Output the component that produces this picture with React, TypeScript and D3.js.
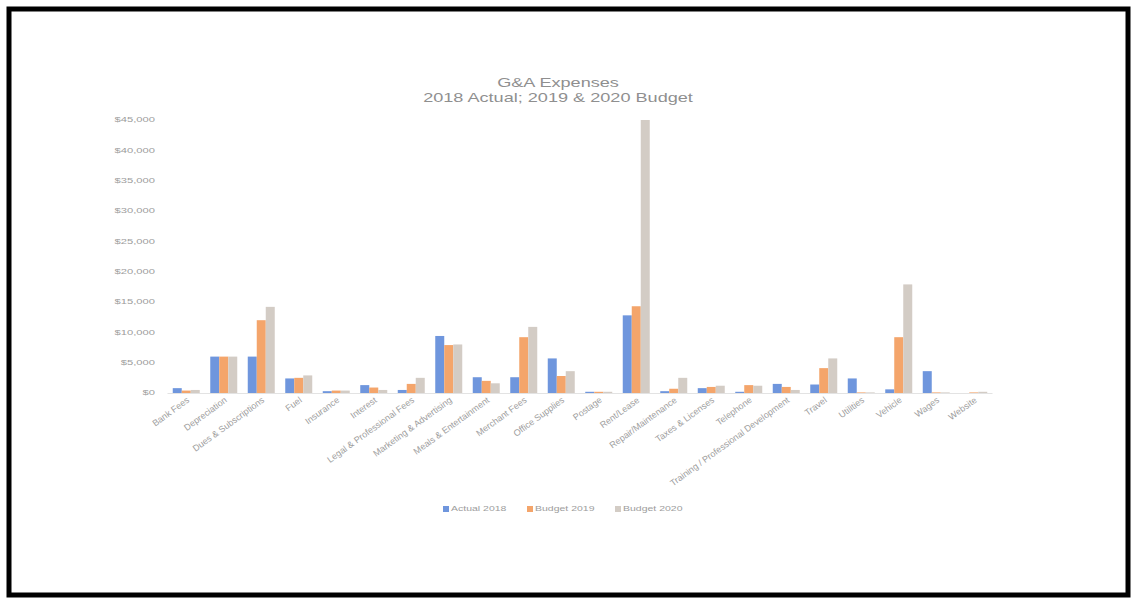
import { useEffect, useRef } from "react";
import * as d3 from "d3";

const categories = [
  "Bank Fees",
  "Depreciation",
  "Dues & Subscriptions",
  "Fuel",
  "Insurance",
  "Interest",
  "Legal & Professional Fees",
  "Marketing & Advertising",
  "Meals & Entertainment",
  "Merchant Fees",
  "Office Supplies",
  "Postage",
  "Rent/Lease",
  "Repair/Maintenance",
  "Taxes & Licenses",
  "Telephone",
  "Training / Professional Development",
  "Travel",
  "Utilities",
  "Vehicle",
  "Wages",
  "Website",
];

const actual2018 = [800, 6000, 6000, 2400, 300, 1300, 500, 9400, 2600, 2600, 5700, 200, 12800, 300, 800, 200, 1500, 1400, 2400, 600, 3600, 0];
const budget2019 = [400, 6000, 12000, 2500, 400, 900, 1500, 7900, 2000, 9200, 2800, 200, 14300, 700, 1000, 1300, 1000, 4100, 100, 9200, 100, 100];
const budget2020 = [500, 6000, 14200, 2900, 400, 500, 2500, 8000, 1600, 10900, 3600, 200, 45000, 2500, 1200, 1200, 500, 5700, 100, 17900, 100, 200];

const seriesNames = ["Actual 2018", "Budget 2019", "Budget 2020"];
const seriesColors = ["#6f96dd", "#f4a56b", "#d3ccc5"];
const yTicks = [0, 5000, 10000, 15000, 20000, 25000, 30000, 35000, 40000, 45000];

const W = 1137;
const H = 604;
const FONT = "'Liberation Sans', sans-serif";
const TEXT = "#9d9d9d";

export default function App() {
  const svgRef = useRef<SVGSVGElement>(null);

  useEffect(() => {
    const svg = d3.select(svgRef.current);
    svg.selectAll("*").remove();

    svg.append("rect").attr("width", W).attr("height", H).attr("fill", "#ffffff");

    // black frame around the picture
    svg.append("rect")
      .attr("x", 9)
      .attr("y", 9)
      .attr("width", W - 18)
      .attr("height", H - 18)
      .attr("fill", "none")
      .attr("stroke", "#000")
      .attr("stroke-width", 5);

    const x0 = d3.scaleBand<string>()
      .domain(categories)
      .range([167.5, 992.5]);

    const x1 = d3.scaleBand<number>()
      .domain([0, 1, 2])
      .range([x0.bandwidth() * 0.14, x0.bandwidth() * 0.86]);

    const y = d3.scaleLinear().domain([0, 45000]).range([393, 120]);

    // title (the source screenshot is stretched sideways)
    const title = svg.append("g").attr("transform", "translate(558,0) scale(1.45,1)");
    title.append("text")
      .attr("y", 87.5)
      .attr("text-anchor", "middle")
      .attr("font-family", FONT)
      .attr("font-size", "12.5px")
      .attr("fill", "#8f8f8f")
      .text("G&A Expenses");
    title.append("text")
      .attr("y", 102)
      .attr("text-anchor", "middle")
      .attr("font-family", FONT)
      .attr("font-size", "12.5px")
      .attr("fill", "#8f8f8f")
      .text("2018 Actual; 2019 & 2020 Budget");

    // y tick labels
    svg.append("g")
      .selectAll("text")
      .data(yTicks)
      .join("text")
      .attr("transform", (d) => `translate(155,${y(d)}) scale(1.6,1)`)
      .attr("dominant-baseline", "central")
      .attr("text-anchor", "end")
      .attr("font-family", FONT)
      .attr("font-size", "7px")
      .attr("fill", TEXT)
      .text((d) => "$" + d3.format(",")(d));

    // bars
    const series = [actual2018, budget2019, budget2020];
    const groups = svg.append("g")
      .selectAll("g")
      .data(categories)
      .join("g")
      .attr("transform", (d) => `translate(${x0(d)},0)`);

    groups.selectAll("rect")
      .data((_, i) => series.map((s, k) => ({ k, v: s[i] })))
      .join("rect")
      .attr("x", (d) => x1(d.k) ?? 0)
      .attr("width", x1.bandwidth())
      .attr("y", (d) => y(d.v))
      .attr("height", (d) => y(0) - y(d.v))
      .attr("fill", (d) => seriesColors[d.k]);

    // axis line
    svg.append("line")
      .attr("x1", 167.5)
      .attr("x2", 992.5)
      .attr("y1", y(0) + 0.5)
      .attr("y2", y(0) + 0.5)
      .attr("stroke", "#e3e3e3")
      .attr("stroke-width", 1);

    // category labels, rotated
    svg.append("g")
      .selectAll("text")
      .data(categories)
      .join("text")
      .attr("transform", (d) => `translate(${(x0(d) ?? 0) + x0.bandwidth() / 2 + 2},${y(0) + 6}) rotate(-36)`)
      .attr("text-anchor", "end")
      .attr("dominant-baseline", "central")
      .attr("font-family", FONT)
      .attr("font-size", "9px")
      .attr("fill", TEXT)
      .text((d) => d);

    // legend
    const legendX = [443, 527, 615];
    const legend = svg.append("g")
      .selectAll("g")
      .data(seriesNames)
      .join("g")
      .attr("transform", (_, i) => `translate(${legendX[i]},509)`);
    legend.append("rect")
      .attr("x", 0)
      .attr("y", -3)
      .attr("width", 6)
      .attr("height", 6)
      .attr("fill", (_, i) => seriesColors[i]);
    legend.append("text")
      .attr("transform", "translate(8,0) scale(1.4,1)")
      .attr("dominant-baseline", "central")
      .attr("font-family", FONT)
      .attr("font-size", "7.5px")
      .attr("fill", TEXT)
      .text((d) => d);
  }, []);

  return (
    <svg
      ref={svgRef}
      width={W}
      height={H}
      style={{ position: "absolute", left: 0, top: 0 }}
    />
  );
}
